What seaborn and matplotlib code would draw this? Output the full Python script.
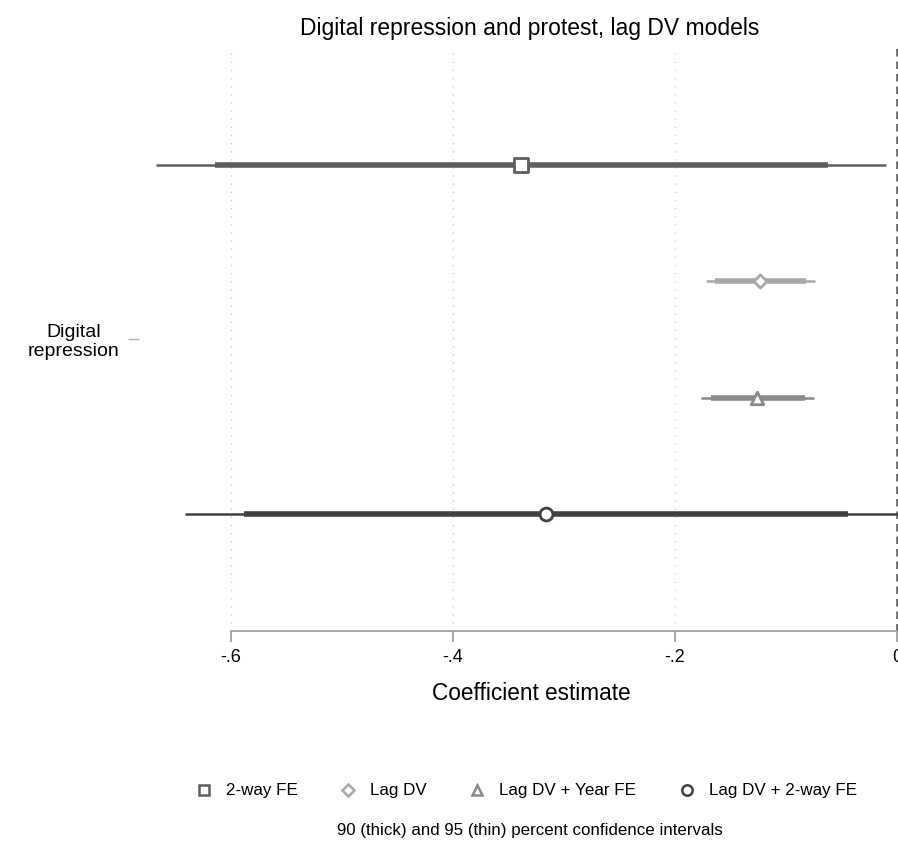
import matplotlib
matplotlib.use("Agg")
import matplotlib.pyplot as plt
from matplotlib.lines import Line2D
import seaborn as sns
import pandas as pd

# Coefficient estimates for digital repression across four model specifications
models = ["2-way FE", "Lag DV", "Lag DV + Year FE", "Lag DV + 2-way FE"]
coef = [-0.339, -0.123, -0.126, -0.316]
ci90_lo = [-0.614, -0.164, -0.168, -0.588]
ci90_hi = [-0.062, -0.082, -0.083, -0.044]
ci95_lo = [-0.668, -0.172, -0.177, -0.641]
ci95_hi = [-0.010, -0.074, -0.075, 0.009]
offsets = [-0.3, -0.1, 0.1, 0.3]
variable = "Digital\nrepression"
x_ticks = [-0.6, -0.4, -0.2, 0.0]
x_ticklabels = ["-.6", "-.4", "-.2", "0"]

colors = ["#5e5e5e", "#a8a8a8", "#8a8a8a", "#404040"]
markers = ["s", "D", "^", "o"]
msizes = [90, 45, 80, 85]

df = pd.DataFrame({
    "model": models, "coef": coef,
    "lo90": ci90_lo, "hi90": ci90_hi,
    "lo95": ci95_lo, "hi95": ci95_hi,
    "y": [1 + o for o in offsets],
})

sns.set_theme(style="white")
plt.rcParams["font.family"] = ["Liberation Sans", "DejaVu Sans"]

W, H = 898, 850
fig = plt.figure(figsize=(W / 100, H / 100), dpi=100)

# axes in pixel terms: left 139, right 905 (runs past the figure edge), top 48, bottom 631
ax_l, ax_r, ax_t, ax_b = 139, 905, 48, 631
ax = fig.add_axes([ax_l / W, 1 - ax_b / H, (ax_r - ax_l) / W, (ax_b - ax_t) / H])

px_per_unit = 1110.0
x0_px = 897.0
ax.set_xlim((ax_l - x0_px) / px_per_unit, (ax_r - x0_px) / px_per_unit)
ax.set_ylim(1.5, 0.5)

# dotted reference grid
for xv in x_ticks[:-1]:
    ax.plot([xv, xv], [0.494, 1.5], color="#c4c4c4", lw=0.9,
            linestyle=(0, (1, 5.5)), zorder=0)
# zero line
ax.axvline(0, color="#5e5e5e", lw=1.8, linestyle=(0, (3, 2)), zorder=1)

for i, row in df.iterrows():
    ax.hlines(row["y"], row["lo95"], row["hi95"], color=colors[i], lw=1.8, zorder=2)
    ax.hlines(row["y"], row["lo90"], row["hi90"], color=colors[i], lw=4.0, zorder=3)
    sns.scatterplot(data=df.iloc[[i]], x="coef", y="y", ax=ax, marker=markers[i],
                    s=msizes[i], color="white", edgecolor=colors[i], linewidth=2.0,
                    zorder=4, legend=False)

ax.set_xlabel("")
ax.set_ylabel("")
for s in ["top", "right", "left"]:
    ax.spines[s].set_visible(False)
ax.spines["bottom"].set_color("#a0a0a0")
ax.spines["bottom"].set_linewidth(1.3)
ax.spines["bottom"].set_bounds(-0.6, 0.0)

ax.set_xticks(x_ticks)
ax.set_xticklabels(x_ticklabels, fontsize=13)
ax.tick_params(axis="x", length=8, width=1.3, color="#a0a0a0", pad=5,
               labelcolor="black", bottom=True)
ax.set_yticks([1.0])
ax.set_yticklabels([variable], fontsize=14, multialignment="center",
                   linespacing=1.1)
ax.tick_params(axis="y", length=8, width=1.0, color="#b0b0b0", pad=6,
               labelcolor="black", left=True)

fig.text(530 / W, 1 - 28 / H, "Digital repression and protest, lag DV models",
         ha="center", va="center", fontsize=16.5, color="black")
fig.text(531 / W, 1 - 693 / H, "Coefficient estimate",
         ha="center", va="center", fontsize=16.3, color="black")
fig.text(530 / W, 1 - 831 / H, "90 (thick) and 95 (thin) percent confidence intervals",
         ha="center", va="center", fontsize=12.2, color="black")

handles = [Line2D([], [], marker=m, linestyle="none", markersize=7.5 if m != "D" else 6,
                  markerfacecolor="white", markeredgecolor=c, markeredgewidth=1.8)
           for m, c in zip(markers, colors)]
fig.legend(handles, models, loc="center", bbox_to_anchor=(526 / W, 1 - 791 / H),
           ncol=4, frameon=False, fontsize=12.25, handletextpad=0.8, columnspacing=2.47,
           handlelength=1.0, labelcolor="black")

fig.savefig("out.png", dpi=100)
